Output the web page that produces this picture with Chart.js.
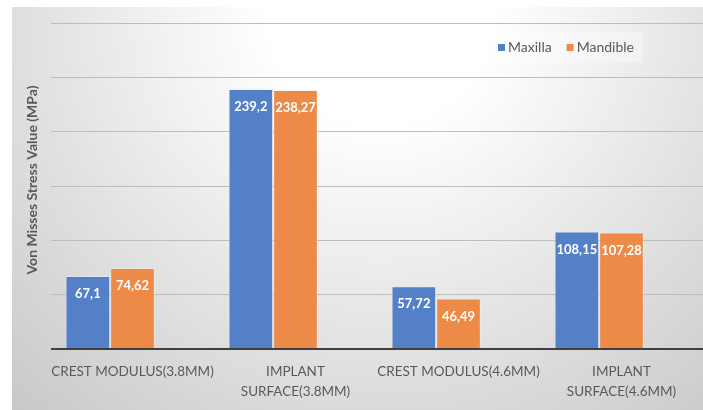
<!DOCTYPE html>
<html>
<head>
<meta charset="utf-8">
<script src="https://cdn.jsdelivr.net/npm/chart.js@4"></script>
<style>
  html, body { margin: 0; padding: 0; background: #ffffff; }
  canvas { display: block; }
</style>
</head>
<body>
<canvas id="chart" width="703" height="410"></canvas>
<script>
// Categories (multi-line labels as arrays)
const categories = [
  ['CREST MODULUS(3.8MM)'],
  ['IMPLANT', 'SURFACE(3.8MM)'],
  ['CREST MODULUS(4.6MM)'],
  ['IMPLANT', 'SURFACE(4.6MM)']
];
const seriesNames = ['Maxilla', 'Mandible', ''];
const maxillaValues = [67.1, 239.2, 57.72, 108.15];
const mandibleValues = [74.62, 238.27, 46.49, 107.28];
// third series of the workbook is empty; it still reserves a slot in each group
const emptySeriesValues = [null, null, null, null];
const yTicks = [0, 50, 100, 150, 200, 250, 300];
const yTitle = 'Von Misses Stress Value (MPa)';

const BLUE = '#5480C8';
const ORANGE = '#EE8A47';
const TEXT_GREY = '#595959';
const FONT = 'Lato, "Open Sans", sans-serif';

// Soft grey backdrop with a bright spot near the top centre
const backdrop = {
  id: 'backdrop',
  beforeDraw(chart) {
    const ctx = chart.ctx;
    const w = chart.width, h = chart.height;
    ctx.save();
    ctx.fillStyle = '#ffffff';
    ctx.fillRect(0, 0, w, h);
    const g = ctx.createRadialGradient(380, 10, 0, 380, 10, 560);
    g.addColorStop(0, '#ffffff');
    g.addColorStop(0.2, '#ffffff');
    g.addColorStop(1, '#c6c6c6');
    ctx.fillStyle = g;
    ctx.fillRect(12, 7, w - 12, h - 7);
    ctx.restore();
  }
};

// Value labels inside the top of each bar, with comma decimals
const valueLabels = {
  id: 'valueLabels',
  afterDatasetsDraw(chart) {
    const ctx = chart.ctx;
    ctx.save();
    ctx.fillStyle = '#ffffff';
    ctx.font = 'bold 13px ' + FONT;
    ctx.textAlign = 'center';
    ctx.textBaseline = 'middle';
    chart.data.datasets.forEach((ds, i) => {
      chart.getDatasetMeta(i).data.forEach((bar, j) => {
        const v = ds.data[j];
        if (v === null || v === undefined) return;
        ctx.fillText(String(v).replace('.', ','), bar.x, bar.y + 18);
      });
    });
    ctx.restore();
  }
};

// Legend row sitting inside the plot, top right
const innerLegend = {
  id: 'innerLegend',
  afterDraw(chart) {
    const ctx = chart.ctx;
    ctx.save();
    ctx.fillStyle = 'rgba(255,255,255,0.35)';
    ctx.fillRect(483, 32, 160, 31);
    ctx.font = '14px ' + FONT;
    ctx.textBaseline = 'middle';
    ctx.textAlign = 'left';
    let x = 498;
    chart.data.datasets.forEach(ds => {
      if (!ds.label) return;
      ctx.fillStyle = ds.backgroundColor;
      ctx.fillRect(x, 44, 7, 7);
      ctx.fillStyle = TEXT_GREY;
      ctx.fillText(ds.label, x + 10, 47.5);
      x += 10 + ctx.measureText(ds.label).width + 15;
    });
    ctx.restore();
  }
};

// Rotated value-axis title
const axisTitle = {
  id: 'axisTitle',
  afterDraw(chart) {
    const ctx = chart.ctx;
    ctx.save();
    ctx.translate(32, 180);
    ctx.rotate(-Math.PI / 2);
    ctx.font = 'bold 14px ' + FONT;
    ctx.fillStyle = TEXT_GREY;
    ctx.textAlign = 'center';
    ctx.textBaseline = 'middle';
    ctx.fillText(yTitle, 0, 0);
    ctx.restore();
  }
};

new Chart(document.getElementById('chart'), {
  type: 'bar',
  data: {
    labels: categories,
    datasets: [
      {
        label: seriesNames[0],
        data: maxillaValues,
        backgroundColor: BLUE,
        borderColor: 'rgba(230,236,248,0.55)',
        borderWidth: 1
      },
      {
        label: seriesNames[1],
        data: mandibleValues,
        backgroundColor: ORANGE,
        borderColor: 'rgba(250,236,226,0.55)',
        borderWidth: 1
      },
      {
        label: seriesNames[2],
        data: emptySeriesValues,
        backgroundColor: 'rgba(0,0,0,0)'
      }
    ]
  },
  options: {
    responsive: false,
    animation: false,
    devicePixelRatio: 1,
    layout: { padding: { left: 51, right: 0, top: 23, bottom: 0 } },
    datasets: {
      bar: { categoryPercentage: 0.822, barPercentage: 1.0 }
    },
    plugins: {
      legend: { display: false },
      tooltip: { enabled: false },
      title: { display: false }
    },
    scales: {
      x: {
        grid: { display: false, drawTicks: false },
        border: { display: false },
        ticks: {
          color: TEXT_GREY,
          font: { family: FONT, size: 13.5, lineHeight: 20 / 13.5 },
          padding: 13,
          maxRotation: 0,
          autoSkip: false
        },
        afterFit(scale) { scale.height = 61; }
      },
      y: {
        min: 0,
        max: 300,
        afterBuildTicks(scale) { scale.ticks = yTicks.map(v => ({ value: v })); },
        ticks: { display: false },
        border: { display: false },
        grid: {
          drawTicks: false,
          color: c => (c.tick && c.tick.value === 0 ? '#3f3f3f' : '#bdbdbd'),
          lineWidth: c => (c.tick && c.tick.value === 0 ? 2 : 1)
        }
      }
    }
  },
  plugins: [backdrop, valueLabels, innerLegend, axisTitle]
});
</script>
</body>
</html>
